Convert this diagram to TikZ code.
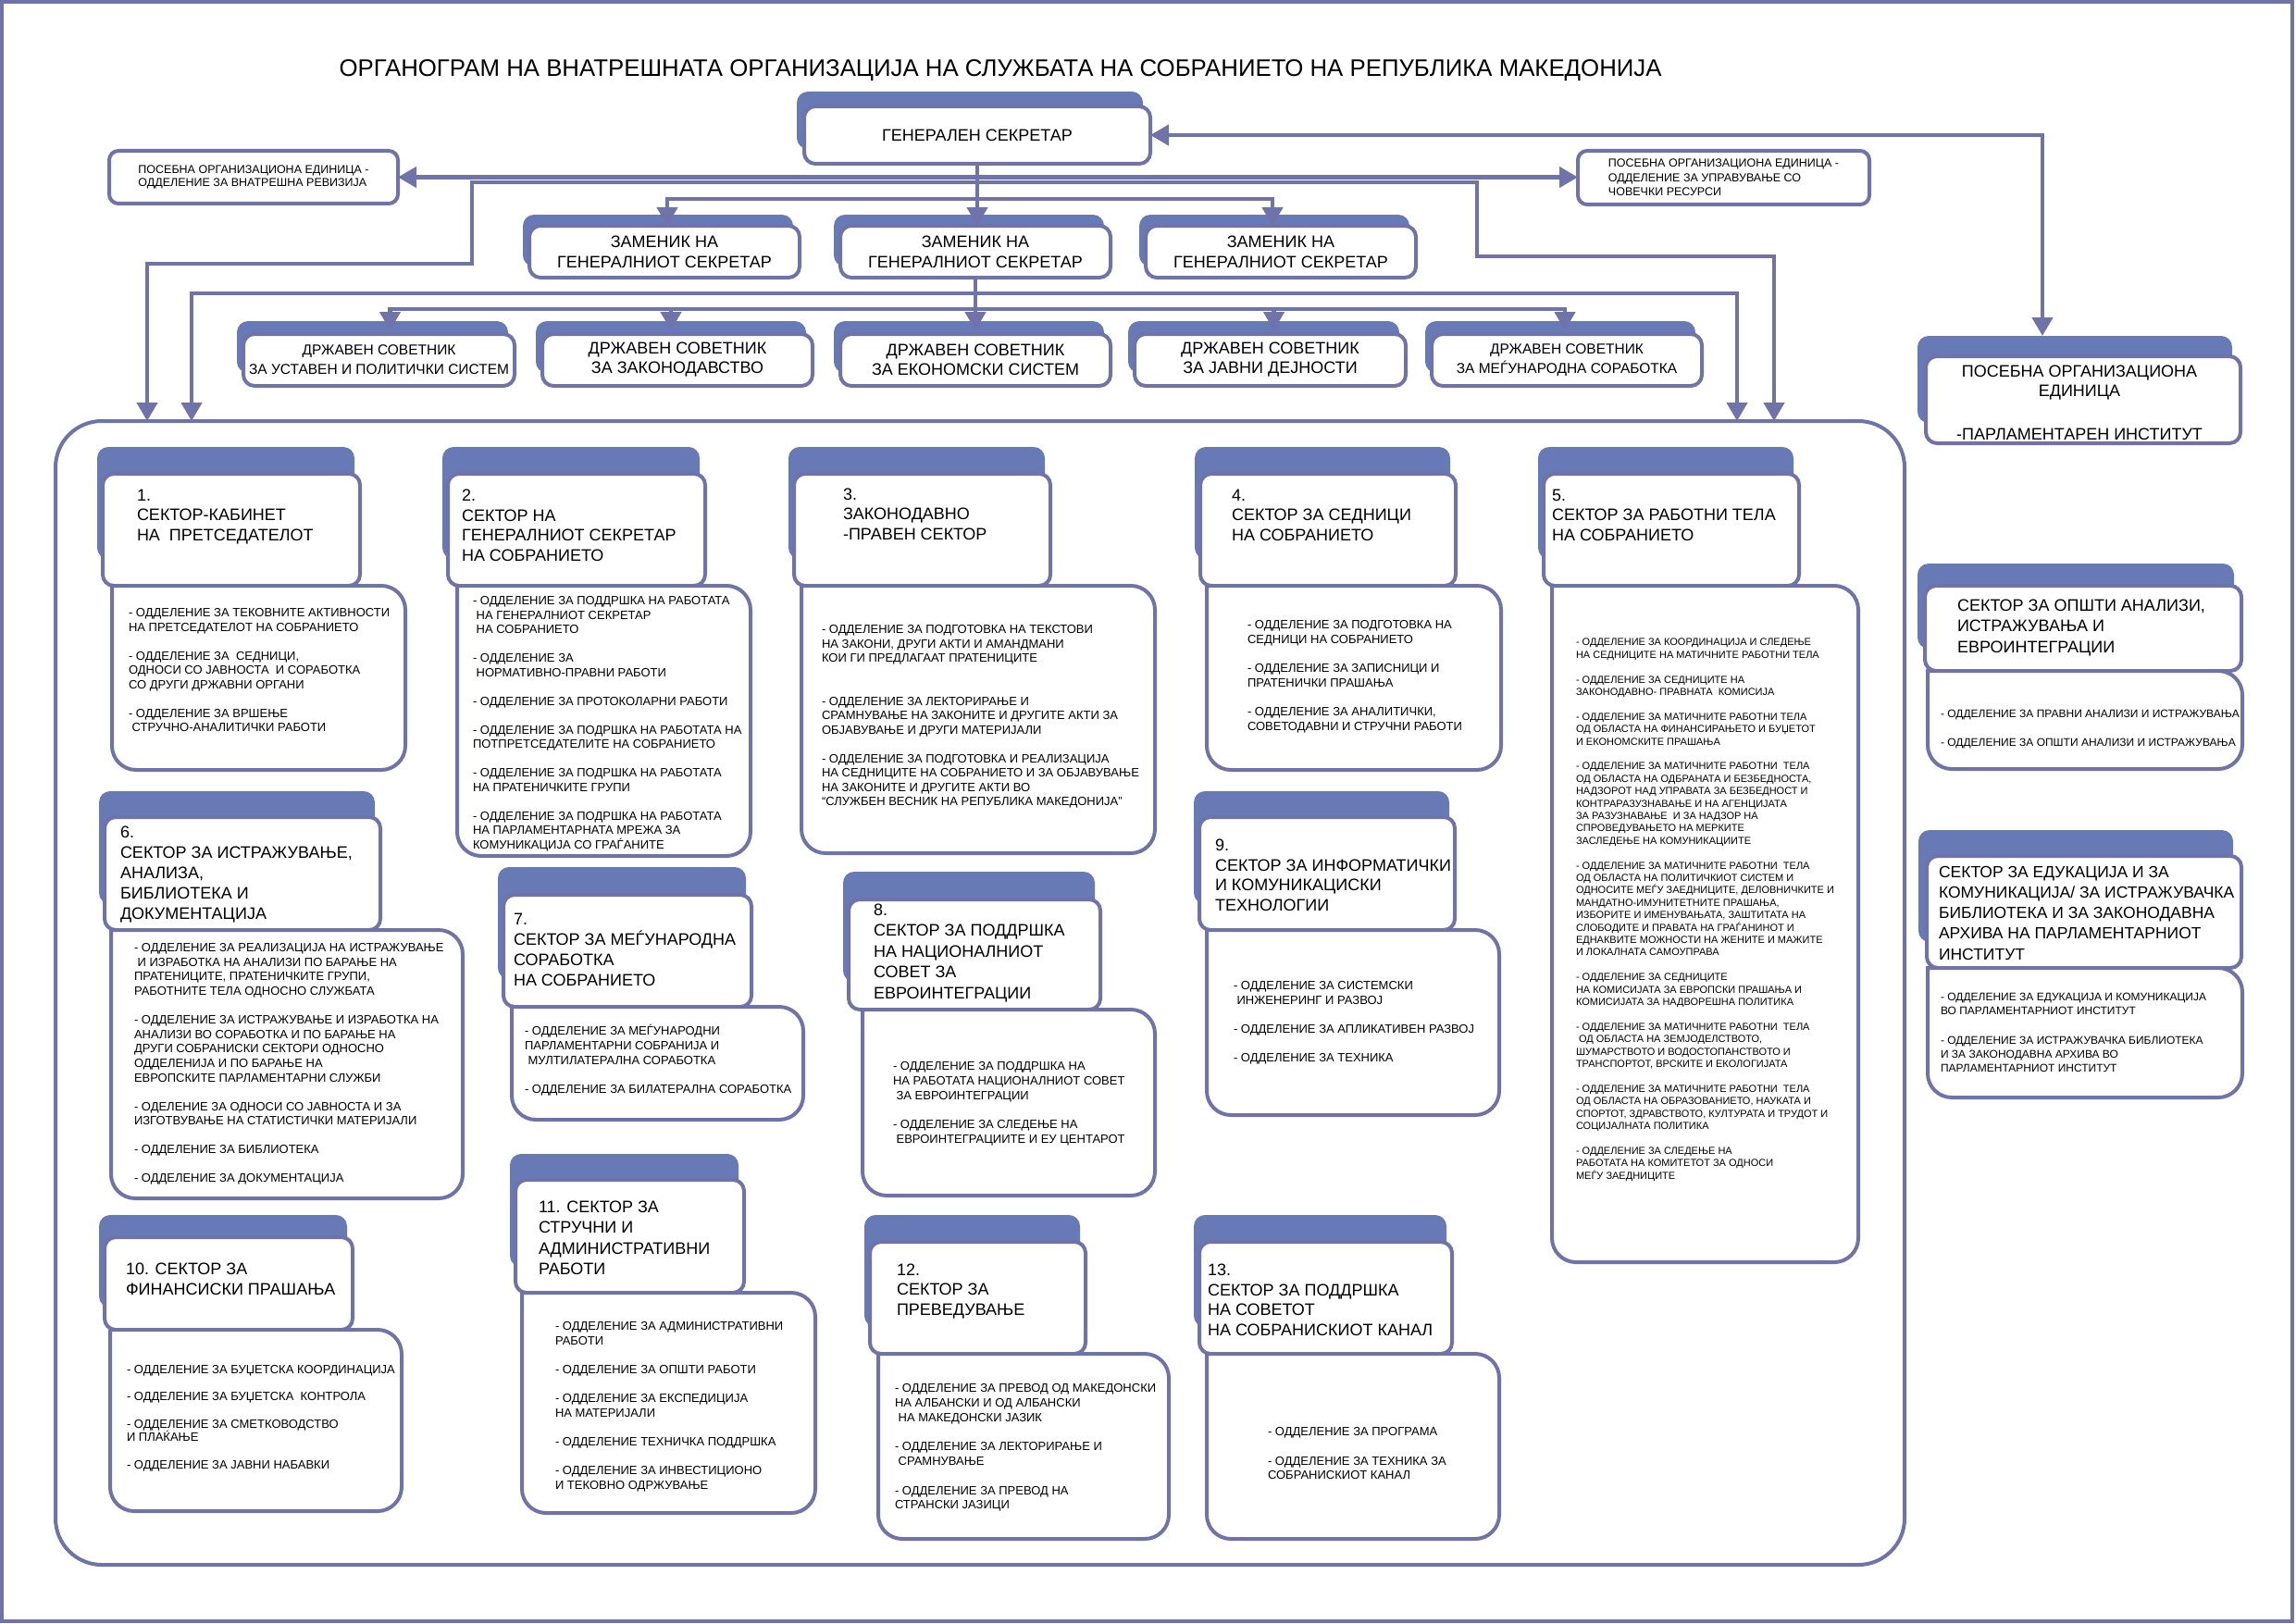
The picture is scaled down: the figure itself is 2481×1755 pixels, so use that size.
\documentclass[tikz,border=0pt]{standalone}
\usepackage{fontspec}
\setmainfont{Liberation Sans}
\usetikzlibrary{arrows.meta,shadows,calc}
\definecolor{lnc}{RGB}{112,114,170}
\definecolor{tabc}{RGB}{103,122,182}
\newcommand\hdrbox[7]{\node[tabbed={#6}{#7},minimum width={#4-#2},minimum height={#5-#3}] (#1) at (#2,#3) {};}
\newcommand\bodybox[5]{\node[ghost,minimum width={#4-#2},minimum height={#5-#3}] (#1) at (#2,#3) {};
  \filldraw[bodyln] (#1.north west) -- (#1.north east) -- (#1.south east) -- (#1.south west) -- (#1.north west);}
\newcommand\gp{\\[15.5pt]}
\newcommand\st{\rule{0pt}{1em}}
\begin{document}
\begin{tikzpicture}[x=1pt,y=-1pt,
  >={Triangle[length=20pt,width=22pt]},
  ln/.style={draw=lnc,line width=4.5pt},
  bx/.style={draw=lnc,line width=4pt,fill=white,rounded corners=12pt,inner sep=0pt,outer sep=0pt,anchor=north west},
  tabbed/.style 2 args={bx,general shadow={fill=tabc,draw=none,shadow xshift=#1,shadow yshift=#2}},
  ghost/.style={inner sep=0pt,outer sep=0pt,anchor=north west,draw=none},
  bodyln/.style={draw=lnc,line width=4pt,fill=white,rounded corners=26pt,line cap=rect},
  ht/.style={inner sep=0pt,outer sep=0pt,anchor=north west,align=left,font=\fontsize{18}{22}\selectfont},
  bt/.style={inner sep=0pt,outer sep=0pt,anchor=north west,align=left,font=\fontsize{13}{15.5}\selectfont},
  ]
\useasboundingbox (0,0) rectangle (2481,1755);
\node[draw=lnc,line width=4pt,inner sep=0pt,outer sep=0pt,anchor=north west,minimum width=2475,minimum height=1750] (frame) at (2,2) {};
\node[inner sep=0pt,anchor=base,font=\fontsize{25.8}{30}\selectfont] (title) at (1081,83) {ОРГАНОГРАМ НА ВНАТРЕШНАТА ОРГАНИЗАЦИЈА НА СЛУЖБАТА НА СОБРАНИЕТО НА РЕПУБЛИКА МАКЕДОНИЈА};

% top level
\node[tabbed={-8pt}{16pt},minimum width=374,minimum height=62,font=\fontsize{18}{22}\selectfont] (gs) at (869,115) {ГЕНЕРАЛЕН СЕКРЕТАР};
\node[bx,rounded corners=10pt,minimum width=312,minimum height=57,align=left,font=\fontsize{12.5}{14}\selectfont] (po1) at (118,163) {ПОСЕБНА ОРГАНИЗАЦИОНА ЕДИНИЦА -\\ОДДЕЛЕНИЕ ЗА ВНАТРЕШНА РЕВИЗИЈА};
\node[bx,rounded corners=10pt,minimum width=315,minimum height=58,align=left,font=\fontsize{12.5}{15.5}\selectfont] (po2) at (1705,163) {ПОСЕБНА ОРГАНИЗАЦИОНА ЕДИНИЦА -\\ОДДЕЛЕНИЕ ЗА УПРАВУВАЊЕ СО\\ЧОВЕЧКИ РЕСУРСИ};

\foreach \n/\x in {z1/572,z2/908,z3/1238}
  \node[tabbed={-7pt}{12pt},minimum width=292,minimum height=56,align=center,font=\fontsize{18}{22}\selectfont] (\n) at (\x,244) {ЗАМЕНИК НА\\ГЕНЕРАЛНИОТ СЕКРЕТАР};

\node[tabbed={-7pt}{14pt},minimum width=293,minimum height=56,align=center,font=\fontsize{15.5}{21}\selectfont] (ds1) at (263,361) {ДРЖАВЕН СОВЕТНИК\\ЗА УСТАВЕН И ПОЛИТИЧКИ СИСТЕМ};
\node[tabbed={-7pt}{14pt},minimum width=292,minimum height=56,align=center,font=\fontsize{18}{21}\selectfont] (ds2) at (586,361) {ДРЖАВЕН СОВЕТНИК\\ЗА ЗАКОНОДАВСТВО};
\node[tabbed={-7pt}{14pt},minimum width=292,minimum height=56,align=center,font=\fontsize{18}{21}\selectfont] (ds3) at (908,361) {ДРЖАВЕН СОВЕТНИК\\ЗА ЕКОНОМСКИ СИСТЕМ};
\node[tabbed={-7pt}{14pt},minimum width=293,minimum height=56,align=center,font=\fontsize{18}{21}\selectfont] (ds4) at (1226,361) {ДРЖАВЕН СОВЕТНИК\\ЗА ЈАВНИ ДЕЈНОСТИ};
\node[tabbed={-7pt}{14pt},minimum width=292,minimum height=56,align=center,font=\fontsize{15.5}{21}\selectfont] (ds5) at (1547,361) {ДРЖАВЕН СОВЕТНИК\\ЗА МЕЃУНАРОДНА СОРАБОТКА};

% right column
\hdrbox{pi}{2081}{385}{2421}{479}{-9pt}{22pt}
\node[inner sep=0pt,anchor=north,align=center,font=\fontsize{18}{21}\selectfont] (pit) at (2247,389.4) {\st ПОСЕБНА ОРГАНИЗАЦИОНА\\ЕДИНИЦА\\[26pt]-ПАРЛАМЕНТАРЕН ИНСТИТУТ};
\hdrbox{so}{2080}{633}{2422}{725}{-8pt}{24pt}
\bodybox{sob}{2083}{725}{2423}{831}
\node[ht,font=\fontsize{18}{22.5}\selectfont] (sot) at (2115,642.4) {\st СЕКТОР ЗА ОПШТИ АНАЛИЗИ,\\ИСТРАЖУВАЊА И\\ЕВРОИНТЕГРАЦИИ};
\node[bt,font=\fontsize{12}{15.5}\selectfont] (sobt) at (2097,763.3) {\st - ОДДЕЛЕНИЕ ЗА ПРАВНИ АНАЛИЗИ И ИСТРАЖУВАЊА\gp- ОДДЕЛЕНИЕ ЗА ОПШТИ АНАЛИЗИ И ИСТРАЖУВАЊА};
\hdrbox{se}{2082}{925}{2422}{1046}{-9pt}{28pt}
\bodybox{seb}{2083}{1046}{2423}{1186}
\node[ht,font=\fontsize{17.5}{22.2}\selectfont] (set) at (2095,930.8) {\st СЕКТОР ЗА ЕДУКАЦИЈА И ЗА\\КОМУНИКАЦИЈА/ ЗА ИСТРАЖУВАЧКА\\БИБЛИОТЕКА И ЗА ЗАКОНОДАВНА\\АРХИВА НА ПАРЛАМЕНТАРНИОТ\\ИНСТИТУТ};
\node[bt,font=\fontsize{12}{15}\selectfont] (sebt) at (2097,1069.3) {\st - ОДДЕЛЕНИЕ ЗА ЕДУКАЦИЈА И КОМУНИКАЦИЈА\\ВО ПАРЛАМЕНТАРНИОТ ИНСТИТУТ\\[17pt]- ОДДЕЛЕНИЕ ЗА ИСТРАЖУВАЧКА БИБЛИОТЕКА\\И ЗА ЗАКОНОДАВНА АРХИВА ВО\\ПАРЛАМЕНТАРНИОТ ИНСТИТУТ};

% container
\node[bx,rounded corners=50pt,minimum width=1998,minimum height=1236] (cont) at (60,455) {};

% sectors
\hdrbox{s1}{111}{512}{389}{633}{-6pt}{29pt}
\bodybox{b1}{121}{633}{438}{832}
\node[ht,font=\fontsize{18}{21.5}\selectfont] (s1t) at (148,523.4) {\st 1.\\СЕКТОР-КАБИНЕТ\\НА~ ПРЕТСЕДАТЕЛОТ};
\node[bt] (b1t) at (139,653.7) {\st - ОДДЕЛЕНИЕ ЗА ТЕКОВНИТЕ АКТИВНОСТИ\\НА ПРЕТСЕДАТЕЛОТ НА СОБРАНИЕТО\gp- ОДДЕЛЕНИЕ ЗА~ СЕДНИЦИ,\\ОДНОСИ СО ЈАВНОСТА~ И СОРАБОТКА\\СО ДРУГИ ДРЖАВНИ ОРГАНИ\gp- ОДДЕЛЕНИЕ ЗА ВРШЕЊЕ\\~СТРУЧНО-АНАЛИТИЧКИ РАБОТИ};

\hdrbox{s2}{484}{512}{762}{633}{-6pt}{29pt}
\bodybox{b2}{494}{633}{811}{925}
\node[ht,font=\fontsize{18}{21.7}\selectfont] (s2t) at (499,523.4) {\st 2.\\СЕКТОР НА\\ГЕНЕРАЛНИОТ СЕКРЕТАР\\НА СОБРАНИЕТО};
\node[bt] (b2t) at (511,640.7) {\st - ОДДЕЛЕНИЕ ЗА ПОДДРШКА НА РАБОТАТА\\~НА ГЕНЕРАЛНИОТ СЕКРЕТАР\\~НА СОБРАНИЕТО\gp- ОДДЕЛЕНИЕ ЗА\\~НОРМАТИВНО-ПРАВНИ РАБОТИ\gp- ОДДЕЛЕНИЕ ЗА ПРОТОКОЛАРНИ РАБОТИ\gp- ОДДЕЛЕНИЕ ЗА ПОДРШКА НА РАБОТАТА НА\\ПОТПРЕТСЕДАТЕЛИТЕ НА СОБРАНИЕТО\gp- ОДДЕЛЕНИЕ ЗА ПОДРШКА НА РАБОТАТА\\НА ПРАТЕНИЧКИТЕ ГРУПИ\gp- ОДДЕЛЕНИЕ ЗА ПОДРШКА НА РАБОТАТА\\НА ПАРЛАМЕНТАРНАТА МРЕЖА ЗА\\КОМУНИКАЦИЈА СО ГРАЃАНИТЕ};

\hdrbox{s3}{858}{512}{1135}{633}{-6pt}{29pt}
\bodybox{b3}{866}{633}{1248}{922}
\node[ht,font=\fontsize{18}{21.5}\selectfont] (s3t) at (911,522.4) {\st 3.\\ЗАКОНОДАВНО\\-ПРАВЕН СЕКТОР};
\node[bt] (b3t) at (888,671.7) {\st - ОДДЕЛЕНИЕ ЗА ПОДГОТОВКА НА ТЕКСТОВИ\\НА ЗАКОНИ, ДРУГИ АКТИ И АМАНДМАНИ\\КОИ ГИ ПРЕДЛАГААТ ПРАТЕНИЦИТЕ\\[31pt]- ОДДЕЛЕНИЕ ЗА ЛЕКТОРИРАЊЕ И\\СРАМНУВАЊЕ НА ЗАКОНИТЕ И ДРУГИТЕ АКТИ ЗА\\ОБЈАВУВАЊЕ И ДРУГИ МАТЕРИЈАЛИ\gp- ОДДЕЛЕНИЕ ЗА ПОДГОТОВКА И РЕАЛИЗАЦИЈА\\НА СЕДНИЦИТЕ НА СОБРАНИЕТО И ЗА ОБЈАВУВАЊЕ\\НА ЗАКОНИТЕ И ДРУГИТЕ АКТИ ВО\\“СЛУЖБЕН ВЕСНИК НА РЕПУБЛИКА МАКЕДОНИЈА”};

\hdrbox{s4}{1297}{512}{1573}{633}{-6pt}{29pt}
\bodybox{b4}{1304}{633}{1622}{832}
\node[ht,font=\fontsize{18}{21.5}\selectfont] (s4t) at (1331,523.4) {\st 4.\\СЕКТОР ЗА СЕДНИЦИ\\НА СОБРАНИЕТО};
\node[bt,font=\fontsize{13}{16}\selectfont] (b4t) at (1348,666.7) {\st - ОДДЕЛЕНИЕ ЗА ПОДГОТОВКА НА\\СЕДНИЦИ НА СОБРАНИЕТО\\[15pt]- ОДДЕЛЕНИЕ ЗА ЗАПИСНИЦИ И\\ПРАТЕНИЧКИ ПРАШАЊА\\[15pt]- ОДДЕЛЕНИЕ ЗА АНАЛИТИЧКИ,\\СОВЕТОДАВНИ И СТРУЧНИ РАБОТИ};

\hdrbox{s5}{1668}{512}{1944}{633}{-6pt}{29pt}
\bodybox{b5}{1677}{633}{2008}{1364}
\node[ht,font=\fontsize{18}{21.5}\selectfont] (s5t) at (1677,523.4) {\st 5.\\СЕКТОР ЗА РАБОТНИ ТЕЛА\\НА СОБРАНИЕТО};
\node[bt,font=\fontsize{11}{13.4}\selectfont] (b5t) at (1703,686.9) {\st - ОДДЕЛЕНИЕ ЗА КООРДИНАЦИЈА И СЛЕДЕЊЕ\\НА СЕДНИЦИТЕ НА МАТИЧНИТЕ РАБОТНИ ТЕЛА\\[13.4pt]- ОДДЕЛЕНИЕ ЗА СЕДНИЦИТЕ НА\\ЗАКОНОДАВНО- ПРАВНАТА~ КОМИСИЈА\\[13.4pt]- ОДДЕЛЕНИЕ ЗА МАТИЧНИТЕ РАБОТНИ ТЕЛА\\ОД ОБЛАСТА НА ФИНАНСИРАЊЕТО И БУЏЕТОТ\\И ЕКОНОМСКИТЕ ПРАШАЊА\\[13.4pt]- ОДДЕЛЕНИЕ ЗА МАТИЧНИТЕ РАБОТНИ~ ТЕЛА\\ОД ОБЛАСТА НА ОДБРАНАТА И БЕЗБЕДНОСТА,\\НАДЗОРОТ НАД УПРАВАТА ЗА БЕЗБЕДНОСТ И\\КОНТРАРАЗУЗНАВАЊЕ И НА АГЕНЦИЈАТА\\ЗА РАЗУЗНАВАЊЕ~ И ЗА НАДЗОР НА\\СПРОВЕДУВАЊЕТО НА МЕРКИТЕ\\ЗАСЛЕДЕЊЕ НА КОМУНИКАЦИИТЕ\\[13.4pt]- ОДДЕЛЕНИЕ ЗА МАТИЧНИТЕ РАБОТНИ~ ТЕЛА\\ОД ОБЛАСТА НА ПОЛИТИЧКИОТ СИСТЕМ И\\ОДНОСИТЕ МЕЃУ ЗАЕДНИЦИТЕ, ДЕЛОВНИЧКИТЕ И\\МАНДАТНО-ИМУНИТЕТНИТЕ ПРАШАЊА,\\ИЗБОРИТЕ И ИМЕНУВАЊАТА, ЗАШТИТАТА НА\\СЛОБОДИТЕ И ПРАВАТА НА ГРАЃАНИНОТ И\\ЕДНАКВИТЕ МОЖНОСТИ НА ЖЕНИТЕ И МАЖИТЕ\\И ЛОКАЛНАТА САМОУПРАВА\\[13.4pt]- ОДДЕЛЕНИЕ ЗА СЕДНИЦИТЕ\\НА КОМИСИЈАТА ЗА ЕВРОПСКИ ПРАШАЊА И\\КОМИСИЈАТА ЗА НАДВОРЕШНА ПОЛИТИКА\\[13.4pt]- ОДДЕЛЕНИЕ ЗА МАТИЧНИТЕ РАБОТНИ~ ТЕЛА\\~ОД ОБЛАСТА НА ЗЕМЈОДЕЛСТВОТО,\\ШУМАРСТВОТО И ВОДОСТОПАНСТВОТО И\\ТРАНСПОРТОТ, ВРСКИТЕ И ЕКОЛОГИЈАТА\\[13.4pt]- ОДДЕЛЕНИЕ ЗА МАТИЧНИТЕ РАБОТНИ~ ТЕЛА\\ОД ОБЛАСТА НА ОБРАЗОВАНИЕТО, НАУКАТА И\\СПОРТОТ, ЗДРАВСТВОТО, КУЛТУРАТА И ТРУДОТ И\\СОЦИЈАЛНАТА ПОЛИТИКА\\[13.4pt]- ОДДЕЛЕНИЕ ЗА СЛЕДЕЊЕ НА\\РАБОТАТА НА КОМИТЕТОТ ЗА ОДНОСИ\\МЕЃУ ЗАЕДНИЦИТЕ};

\hdrbox{s6}{113}{883}{411}{1005}{-6pt}{28pt}
\bodybox{b6}{120}{1005}{500}{1295}
\node[ht] (s6t) at (130,887.4) {\st 6.\\СЕКТОР ЗА ИСТРАЖУВАЊЕ,\\АНАЛИЗА,\\БИБЛИОТЕКА И\\ДОКУМЕНТАЦИЈА};
\node[bt,font=\fontsize{13}{15.6}\selectfont] (b6t) at (145,1015.7) {\st - ОДДЕЛЕНИЕ ЗА РЕАЛИЗАЦИЈА НА ИСТРАЖУВАЊЕ\\~И ИЗРАБОТКА НА АНАЛИЗИ ПО БАРАЊЕ НА\\ПРАТЕНИЦИТЕ, ПРАТЕНИЧКИТЕ ГРУПИ,\\РАБОТНИТЕ ТЕЛА ОДНОСНО СЛУЖБАТА\gp- ОДДЕЛЕНИЕ ЗА ИСТРАЖУВАЊЕ И ИЗРАБОТКА НА\\АНАЛИЗИ ВО СОРАБОТКА И ПО БАРАЊЕ НА\\ДРУГИ СОБРАНИСКИ СЕКТОРИ ОДНОСНО\\ОДДЕЛЕНИЈА И ПО БАРАЊЕ НА\\ЕВРОПСКИТЕ ПАРЛАМЕНТАРНИ СЛУЖБИ\gp- ОДЕЛЕНИЕ ЗА ОДНОСИ СО ЈАВНОСТА И ЗА\\ИЗГОТВУВАЊЕ НА СТАТИСТИЧКИ МАТЕРИЈАЛИ\gp- ОДДЕЛЕНИЕ ЗА БИБЛИОТЕКА\gp- ОДДЕЛЕНИЕ ЗА ДОКУМЕНТАЦИЈА};

\hdrbox{s7}{544}{967}{812}{1088}{-6pt}{30pt}
\bodybox{b7}{553}{1088}{868}{1210}
\node[ht] (s7t) at (555,981.4) {\st 7.\\СЕКТОР ЗА МЕЃУНАРОДНА\\СОРАБОТКА\\НА СОБРАНИЕТО};
\node[bt,font=\fontsize{13}{16}\selectfont] (b7t) at (567,1105.7) {\st - ОДДЕЛЕНИЕ ЗА МЕЃУНАРОДНИ\\ПАРЛАМЕНТАРНИ СОБРАНИЈА И\\~МУЛТИЛАТЕРАЛНА СОРАБОТКА\\[15pt]- ОДДЕЛЕНИЕ ЗА БИЛАТЕРАЛНА СОРАБОТКА};

\hdrbox{s8}{917}{972}{1189}{1091}{-6pt}{30pt}
\bodybox{b8}{932}{1091}{1248}{1292}
\node[ht,font=\fontsize{18}{22.5}\selectfont] (s8t) at (944,971.4) {\st 8.\\СЕКТОР ЗА ПОДДРШКА\\НА НАЦИОНАЛНИОТ\\СОВЕТ ЗА\\ЕВРОИНТЕГРАЦИИ};
\node[bt,font=\fontsize{13}{16}\selectfont] (b8t) at (965,1143.7) {\st - ОДДЕЛЕНИЕ ЗА ПОДДРШКА НА\\НА РАБОТАТА НАЦИОНАЛНИОТ СОВЕТ\\~ЗА ЕВРОИНТЕГРАЦИИ\\[15pt]- ОДДЕЛЕНИЕ ЗА СЛЕДЕЊЕ НА\\~ЕВРОИНТЕГРАЦИИТЕ И ЕУ ЦЕНТАРОТ};

\hdrbox{s9}{1296}{883}{1572}{1005}{-6pt}{28pt}
\bodybox{b9}{1304}{1005}{1620}{1205}
\node[ht,font=\fontsize{18}{21.7}\selectfont] (s9t) at (1313,901.4) {\st 9.\\СЕКТОР ЗА ИНФОРМАТИЧКИ\\И КОМУНИКАЦИСКИ\\ТЕХНОЛОГИИ};
\node[bt,font=\fontsize{13}{15.7}\selectfont] (b9t) at (1333,1056.7) {\st - ОДДЕЛЕНИЕ ЗА СИСТЕМСКИ\\~ИНЖЕНЕРИНГ И РАЗВОЈ\gp- ОДДЕЛЕНИЕ ЗА АПЛИКАТИВЕН РАЗВОЈ\gp- ОДДЕЛЕНИЕ ЗА ТЕХНИКА};

\hdrbox{s10}{113}{1337}{381}{1437}{-6pt}{24pt}
\bodybox{b10}{119}{1437}{434}{1633}
\node[ht] (s10t) at (136,1359.4) {\st 10. СЕКТОР ЗА\\ФИНАНСИСКИ ПРАШАЊА};
\node[bt,font=\fontsize{13}{14.5}\selectfont] (b10t) at (137,1471.7) {\st - ОДДЕЛЕНИЕ ЗА БУЏЕТСКА КООРДИНАЦИЈА\\[14.5pt]- ОДДЕЛЕНИЕ ЗА БУЏЕТСКА~ КОНТРОЛА\\[15pt]- ОДДЕЛЕНИЕ ЗА СМЕТКОВОДСТВО\\И ПЛАЌАЊЕ\\[15pt]- ОДДЕЛЕНИЕ ЗА ЈАВНИ НАБАВКИ};

\hdrbox{s11}{557}{1275}{804}{1397}{-6pt}{28pt}
\bodybox{b11}{564}{1397}{881}{1635}
\node[ht,font=\fontsize{18}{22.3}\selectfont] (s11t) at (582,1292.4) {\st 11. СЕКТОР ЗА\\СТРУЧНИ И\\АДМИНИСТРАТИВНИ\\РАБОТИ};
\node[bt,font=\fontsize{13}{15.7}\selectfont] (b11t) at (600,1424.7) {\st - ОДДЕЛЕНИЕ ЗА АДМИНИСТРАТИВНИ\\РАБОТИ\gp- ОДДЕЛЕНИЕ ЗА ОПШТИ РАБОТИ\gp- ОДДЕЛЕНИЕ ЗА ЕКСПЕДИЦИЈА\\НА МАТЕРИЈАЛИ\gp- ОДДЕЛЕНИЕ ТЕХНИЧКА ПОДДРШКА\gp- ОДДЕЛЕНИЕ ЗА ИНВЕСТИЦИОНО\\И ТЕКОВНО ОДРЖУВАЊЕ};

\hdrbox{s12}{940}{1342}{1173}{1463}{-6pt}{29pt}
\bodybox{b12}{949}{1463}{1263}{1663}
\node[ht,font=\fontsize{18}{21.5}\selectfont] (s12t) at (969,1360.4) {\st 12.\\СЕКТОР ЗА\\ПРЕВЕДУВАЊЕ};
\node[bt,font=\fontsize{13}{15.7}\selectfont] (b12t) at (967,1491.7) {\st - ОДДЕЛЕНИЕ ЗА ПРЕВОД ОД МАКЕДОНСКИ\\НА АЛБАНСКИ И ОД АЛБАНСКИ\\~НА МАКЕДОНСКИ ЈАЗИК\\[16pt]- ОДДЕЛЕНИЕ ЗА ЛЕКТОРИРАЊЕ И\\~СРАМНУВАЊЕ\\[16pt]- ОДДЕЛЕНИЕ ЗА ПРЕВОД НА\\СТРАНСКИ ЈАЗИЦИ};

\hdrbox{s13}{1296}{1342}{1569}{1463}{-6pt}{29pt}
\bodybox{b13}{1304}{1463}{1620}{1663}
\node[ht,font=\fontsize{18}{21.7}\selectfont] (s13t) at (1305,1360.4) {\st 13.\\СЕКТОР ЗА ПОДДРШКА\\НА СОВЕТОТ\\НА СОБРАНИСКИОТ КАНАЛ};
\node[bt] (b13t) at (1370,1538.7) {\st - ОДДЕЛЕНИЕ ЗА ПРОГРАМА\\[16pt]- ОДДЕЛЕНИЕ ЗА ТЕХНИКА ЗА\\СОБРАНИСКИОТ КАНАЛ};

% connectors
\draw[ln,<->] (po1.east) -- (po1.east -| po2.west);
\draw[ln,->] (gs.south) -- (gs.south |- z2.north);
\draw[ln,->] (gs.south |- 0,215) -| ($(z1.north)+(3,0)$);
\draw[ln,->] (gs.south |- 0,215) -| ($(z3.north)+(-9,0)$);
\draw[ln,->] (gs.south |- 0,197) -| (510,285) -| ($(cont.north west)+(99,0)$);
\draw[ln,->] (gs.south |- 0,197) -| (1596,277) -| ($(cont.north west)+(1857,0)$);
\draw[ln,->] (z2.south) -- ($(z2.south |- ds3.north)+(0,-4)$);
\draw[ln,->] (z2.south |- 0,317) -| ($(cont.north west)+(147,0)$);
\draw[ln,->] (z2.south |- 0,317) -| ($(cont.north west)+(1817,0)$);
\draw[ln,->] (z2.south |- 0,334) -| ($(ds1.north)+(12,-4)$);
\draw[ln,->] (z2.south |- 0,334) -| ($(ds2.north)+(-7,-4)$);
\draw[ln,->] (z2.south |- 0,334) -| ($(ds4.north)+(4,-4)$);
\draw[ln,->] (z2.south |- 0,334) -| ($(ds5.north)+(-2,-4)$);
\draw[ln,<->] (gs.east) -| ($(pi.north west)+(126,-22)$);
\end{tikzpicture}
\end{document}
